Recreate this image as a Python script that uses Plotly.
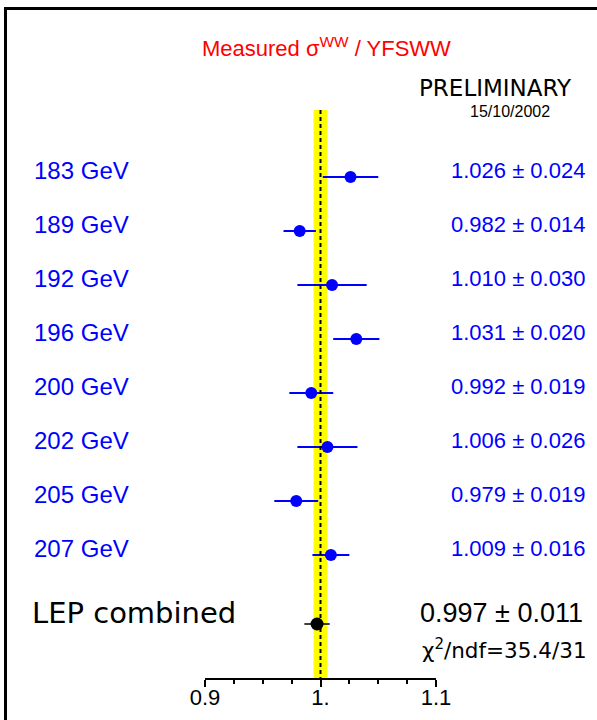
import plotly.graph_objects as go

energies = ["183 GeV", "189 GeV", "192 GeV", "196 GeV", "200 GeV", "202 GeV", "205 GeV", "207 GeV"]
ratios = [1.026, 0.982, 1.010, 1.031, 0.992, 1.006, 0.979, 1.009]
errors = [0.024, 0.014, 0.030, 0.020, 0.019, 0.026, 0.019, 0.016]
comb_label = "LEP combined"
comb_value = 0.997
comb_error = 0.011
chi2_text = "χ<sup>2</sup>/ndf=35.4/31"
tick_vals = [0.9, 1.0, 1.1]
tick_text = ["0.9", "1.", "1.1"]
band_halfwidth = 0.006

W, H = 597, 720
AXIS_Y = 678
row0, dy = 177, 54
rows = [row0 + dy * i for i in range(len(energies))]
comb_row = 624
label_off = -7

fig = go.Figure()

# yellow band and dashed line
fig.add_shape(type="rect", x0=1 - band_halfwidth, x1=1 + band_halfwidth, y0=110, y1=AXIS_Y,
              xref="x", yref="y", fillcolor="#ffff00", line_width=0, layer="below")
fig.add_shape(type="line", x0=1, x1=1, y0=110, y1=AXIS_Y, xref="x", yref="y",
              line=dict(color="black", width=2, dash="4px,3px"))

fig.add_trace(go.Scatter(
    x=ratios, y=rows, mode="markers",
    marker=dict(color="#0000ff", size=12, symbol="circle"),
    error_x=dict(type="data", array=errors, color="#0000ff", thickness=2, width=0),
    showlegend=False, hoverinfo="skip"))
fig.add_trace(go.Scatter(
    x=[comb_value], y=[comb_row], mode="markers",
    marker=dict(color="black", size=13, symbol="circle"),
    error_x=dict(type="data", array=[comb_error], color="black", thickness=1.5, width=0),
    showlegend=False, hoverinfo="skip"))

ann = []
for lab, v, e, r in zip(energies, ratios, errors, rows):
    ann.append(dict(x=32 / W, y=r + label_off, xref="paper", yref="y", text=lab, showarrow=False,
                    xanchor="left", yanchor="middle",
                    font=dict(family="Liberation Sans", size=24, color="#0000ff")))
    ann.append(dict(x=587 / W, y=r + label_off, xref="paper", yref="y",
                    text=f"{v:.3f} ± {e:.3f}", showarrow=False,
                    xanchor="right", yanchor="middle",
                    font=dict(family="Liberation Sans", size=22, color="#0000ff")))
ann.append(dict(x=30 / W, y=comb_row - 11, xref="paper", yref="y", text=comb_label, showarrow=False,
                xanchor="left", yanchor="middle",
                font=dict(family="DejaVu Sans", size=29, color="black")))
ann.append(dict(x=585 / W, y=comb_row - 11, xref="paper", yref="y",
                text=f"{comb_value:.3f} ± {comb_error:.3f}", showarrow=False,
                xanchor="right", yanchor="middle",
                font=dict(family="Liberation Sans", size=27, color="black")))
ann.append(dict(x=589 / W, y=649, xref="paper", yref="y", text=chi2_text, showarrow=False,
                xanchor="right", yanchor="middle",
                font=dict(family="DejaVu Sans", size=21.5, color="black")))
ann.append(dict(x=326 / W, y=47, xref="paper", yref="y",
                text="Measured σ<sup>WW</sup> / YFSWW", showarrow=False,
                xanchor="center", yanchor="middle",
                font=dict(family="Liberation Sans", size=22, color="#ff0000")))
ann.append(dict(x=574 / W, y=88, xref="paper", yref="y", text="PRELIMINARY", showarrow=False,
                xanchor="right", yanchor="middle",
                font=dict(family="DejaVu Sans", size=23, color="black")))
ann.append(dict(x=552 / W, y=111, xref="paper", yref="y", text="15/10/2002", showarrow=False,
                xanchor="right", yanchor="middle",
                font=dict(family="Liberation Sans", size=16, color="black")))

# frame lines
shapes_frame = [
    dict(type="line", xref="paper", yref="paper", x0=4 / W, x1=1, y0=1 - 8.5 / H, y1=1 - 8.5 / H,
         line=dict(color="black", width=3)),
    dict(type="line", xref="paper", yref="paper", x0=5.5 / W, x1=5.5 / W, y0=0, y1=1 - 7 / H,
         line=dict(color="black", width=3)),
]
for s in shapes_frame:
    fig.add_shape(**s)

fig.update_layout(
    template="none",
    width=W, height=H, margin=dict(l=0, r=0, t=0, b=0, pad=0, autoexpand=False),
    paper_bgcolor="white", plot_bgcolor="white",
    annotations=ann,
    xaxis=dict(domain=[205 / W, 436 / W], range=[0.9, 1.1], tickvals=tick_vals, ticktext=tick_text,
               ticks="outside", ticklen=7, tickwidth=1.5, tickcolor="black", automargin=False,
               ticklabelstandoff=-8,
               showline=True, linecolor="black", linewidth=1.5, showgrid=False, zeroline=False,
               tickfont=dict(family="Liberation Sans", size=22, color="black"),
               minor=dict(ticks="outside", ticklen=4, dtick=0.025, tick0=0.9, tickcolor="black",
                          tickwidth=1.5, showgrid=False)),
    yaxis=dict(domain=[(H - AXIS_Y) / H, 1], range=[AXIS_Y, 0], visible=False, showgrid=False,
               zeroline=False, automargin=False),
)

fig.write_html("out.html", config={"displayModeBar": False},
               post_script="document.body.style.margin='0px';")
